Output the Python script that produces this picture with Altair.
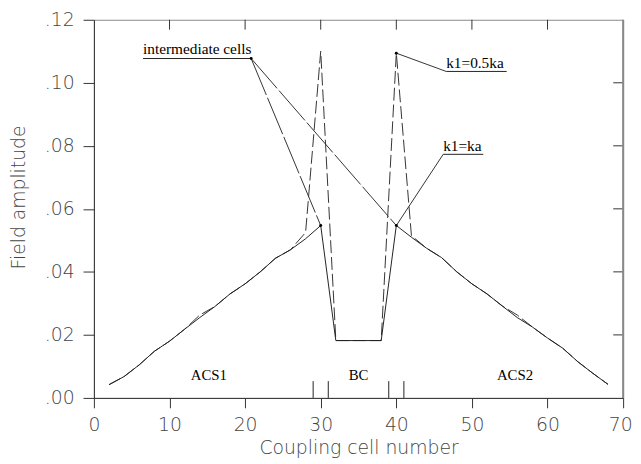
import altair as alt
import pandas as pd

# ---- data ----
x_ka = [2, 4, 6, 8, 10, 12, 14, 16, 18, 20, 22, 24, 26, 28, 30, 32, 38, 40,
        42, 44, 46, 48, 50, 52, 54, 56, 58, 60, 62, 64, 66, 68]
y_ka = [0.0042, 0.0068, 0.0105, 0.0148, 0.0180, 0.0218, 0.0255, 0.0290, 0.0330,
        0.0362, 0.0400, 0.0443, 0.0470, 0.0505, 0.0547, 0.0182, 0.0182, 0.0547,
        0.0510, 0.0475, 0.0445, 0.0400, 0.0362, 0.0330, 0.0292, 0.0255, 0.0225,
        0.0190, 0.0158, 0.0115, 0.0078, 0.0043]

x_half = [2, 4, 6, 8, 10, 12, 14, 16, 18, 20, 22, 24, 26, 28, 30, 32, 38, 40,
          42, 44, 46, 48, 50, 52, 54, 56, 58, 60, 62, 64, 66, 68]
y_half = [0.0042, 0.0068, 0.0105, 0.0148, 0.0180, 0.0218, 0.0263, 0.0290, 0.0330,
          0.0362, 0.0400, 0.0443, 0.0470, 0.0525, 0.1100, 0.0182, 0.0182, 0.1094,
          0.0515, 0.0475, 0.0445, 0.0400, 0.0362, 0.0330, 0.0292, 0.0263, 0.0225,
          0.0190, 0.0158, 0.0115, 0.0078, 0.0043]

region_labels = ["ACS1", "BC", "ACS2"]
region_x = [15.2, 35.0, 55.7]
region_y = [0.0072, 0.0072, 0.0072]

boundary_cells = [29, 31, 39, 41]
top_ticks = [10, 20, 30, 40, 50, 60]
right_ticks = [0.02, 0.04, 0.06, 0.08, 0.10]

# annotation texts and anchors
ann_text = ["intermediate cells", "k1=0.5ka", "k1=ka"]
ann_x = [6.5, 46.6, 46.2]
ann_y = [0.1090, 0.1047, 0.0784]
ann_x2 = [20.8, 54.6, 51.5]      # end of underline
ann_uy = [0.1077, 0.1036, 0.0773]  # underline level

# leader lines: (from label end) -> (to point)
lead_x = [20.8, 20.8, 46.6, 46.2]
lead_y = [0.1077, 0.1077, 0.1036, 0.0773]
lead_x2 = [30.0, 40.0, 40.0, 40.0]
lead_y2 = [0.0547, 0.0547, 0.1094, 0.0547]
lead_dash = ["long", "long", "solid", "solid"]

dot_x = [20.8, 30.0, 40.0, 40.0]
dot_y = [0.1077, 0.0547, 0.0547, 0.1094]

W, H = 536, 383

df_ka = pd.DataFrame({"x": x_ka, "y": y_ka, "o": range(len(x_ka))})
df_half = pd.DataFrame({"x": x_half, "y": y_half, "o": range(len(x_half))})
df_reg = pd.DataFrame({"t": region_labels, "x": region_x, "y": region_y})
df_ann = pd.DataFrame({"t": ann_text, "x": ann_x, "y": ann_y, "x2": ann_x2, "uy": ann_uy})
df_lead = pd.DataFrame({"x": lead_x, "y": lead_y, "x2": lead_x2, "y2": lead_y2, "d": lead_dash})
df_dot = pd.DataFrame({"x": dot_x, "y": dot_y})
df_bnd = pd.DataFrame({"x": boundary_cells})
df_tt = pd.DataFrame({"x": top_ticks})
df_rt = pd.DataFrame({"y": right_ticks})

xs = alt.Scale(domain=[0, 70], nice=False, zero=False)
ys = alt.Scale(domain=[0, 0.12], nice=False, zero=False)

AXFONT = "DejaVu Sans"

xaxis = alt.Axis(values=[0, 10, 20, 30, 40, 50, 60, 70], title="Coupling cell number",
                 grid=False, tickSize=10, labelPadding=8, labelFontSize=19,
                 titleFontSize=19, titlePadding=4, labelFont=AXFONT, titleFont=AXFONT,
                 labelFontWeight=200, titleFontWeight=200, labelColor="#444",
                 titleColor="#444", domainColor="#333", tickColor="#333",
                 labelFlush=False,
                 labelOffset={"condition": {"test": "datum.value == 70", "value": -3},
                              "value": 0})
yaxis = alt.Axis(values=[0, 0.02, 0.04, 0.06, 0.08, 0.10, 0.12], title="Field amplitude",
                 grid=False, tickSize=11, labelPadding=9, labelFontSize=19,
                 titleFontSize=19, titlePadding=16, labelFont=AXFONT, titleFont=AXFONT,
                 labelFontWeight=200, titleFontWeight=200, labelColor="#444",
                 titleColor="#444", domainColor="#333", tickColor="#333",
                 labelExpr="replace(format(datum.value, '.2f'), '0.', '.')",
                 labelFlush=False, titleY=H / 2 - 12)

half = alt.Chart(df_half).mark_line(color="#333", strokeWidth=1, strokeDash=[13, 4]).encode(
    x=alt.X("x:Q", scale=xs, axis=xaxis),
    y=alt.Y("y:Q", scale=ys, axis=yaxis),
    order="o:Q",
)
ka = alt.Chart(df_ka).mark_line(color="#222", strokeWidth=1).encode(
    x=alt.X("x:Q", scale=xs), y=alt.Y("y:Q", scale=ys), order="o:Q"
)

lead_long = alt.Chart(df_lead[df_lead.d == "long"]).mark_rule(
    color="#333", strokeWidth=1, strokeDash=[40, 3]).encode(
    x=alt.X("x:Q", scale=xs), y=alt.Y("y:Q", scale=ys), x2="x2:Q", y2="y2:Q")
lead_solid = alt.Chart(df_lead[df_lead.d == "solid"]).mark_rule(
    color="#333", strokeWidth=1).encode(
    x=alt.X("x:Q", scale=xs), y=alt.Y("y:Q", scale=ys), x2="x2:Q", y2="y2:Q")

under = alt.Chart(df_ann).mark_rule(color="#222", strokeWidth=1).encode(
    x=alt.X("x:Q", scale=xs), x2="x2:Q", y=alt.Y("uy:Q", scale=ys))
ann = alt.Chart(df_ann).mark_text(font="Liberation Serif", fontSize=15.5, align="left",
                                  baseline="alphabetic", color="#000").encode(
    x=alt.X("x:Q", scale=xs), y=alt.Y("y:Q", scale=ys), text="t:N")

reg = alt.Chart(df_reg).mark_text(font="Liberation Serif", fontSize=15, align="center",
                                  baseline="middle", color="#000").encode(
    x=alt.X("x:Q", scale=xs), y=alt.Y("y:Q", scale=ys), text="t:N")

dots = alt.Chart(df_dot).mark_circle(size=9, color="#000", opacity=1).encode(
    x=alt.X("x:Q", scale=xs), y=alt.Y("y:Q", scale=ys))

bnd = alt.Chart(df_bnd).mark_rule(color="#222", strokeWidth=1).encode(
    x=alt.X("x:Q", scale=xs), y=alt.value(H - 17), y2=alt.value(H))
tt = alt.Chart(df_tt).mark_rule(color="#333", strokeWidth=1).encode(
    x=alt.X("x:Q", scale=xs), y=alt.value(0), y2=alt.value(10))
rt = alt.Chart(df_rt).mark_rule(color="#333", strokeWidth=1).encode(
    y=alt.Y("y:Q", scale=ys), x=alt.value(W - 10), x2=alt.value(W))
right_line = alt.Chart(df_rt.head(1)).mark_rule(color="#888", strokeWidth=2).encode(
    x=alt.value(W), y=alt.value(0), y2=alt.value(H))

chart = alt.layer(half, ka, lead_long, lead_solid, under, ann, reg, dots, bnd, tt, rt,
                  right_line).properties(
    width=W, height=H,
    autosize=alt.AutoSizeParams(type="none"),
    padding={"left": 87, "top": 9, "right": 10, "bottom": 63},
    background="white",
).configure_view(stroke="#888", strokeWidth=1)

chart.save("out.html", embed_options={"renderer": "svg", "actions": False})
